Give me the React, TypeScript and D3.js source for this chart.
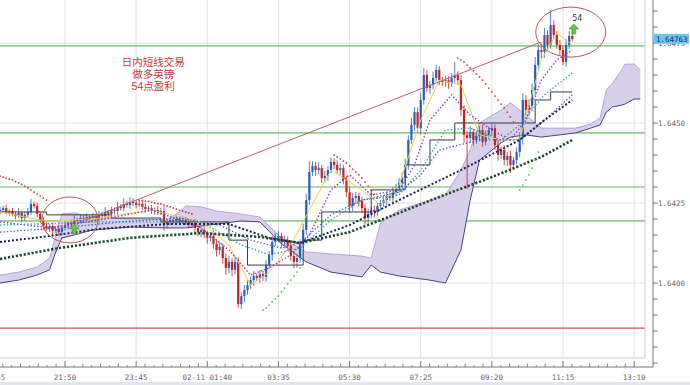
import * as d3 from "d3";

const WIDTH = 690;
const HEIGHT = 385;
const PLOT_RIGHT = 645;
const PLOT_BOTTOM = 358;
const AXIS_X = 653;
const AXIS_Y = 367;

// GBP/USD 5 minute bars, 20:05 -> 11:30
const FIRST_OPEN = 1.64222;
const closes = [
  1.64228, 1.64234, 1.64222, 1.64225, 1.64216, 1.64209, 1.64219, 1.64203, 1.64213, 1.64222,
  1.64247, 1.64241, 1.64216, 1.64197, 1.64178, 1.64172, 1.64178, 1.64163, 1.64169, 1.64159,
  1.64172, 1.64181, 1.64188, 1.64184, 1.64197, 1.64194, 1.64203, 1.64197, 1.64206, 1.642,
  1.64209, 1.64203, 1.64213, 1.64209, 1.64222, 1.64216, 1.64228, 1.64225, 1.64238, 1.64234,
  1.64247, 1.64244, 1.64253, 1.6425, 1.64244, 1.64247, 1.64238, 1.64231, 1.64234, 1.64225,
  1.64228, 1.64222, 1.64225, 1.64184, 1.64191, 1.64197, 1.64194, 1.642, 1.64194, 1.64197,
  1.64191, 1.64184, 1.64188, 1.64172, 1.64159, 1.64166, 1.64153, 1.64141, 1.64147, 1.64122,
  1.64103, 1.64113, 1.64078, 1.64047, 1.64066, 1.64041, 1.64066, 1.63934, 1.63959, 1.63978,
  1.63994, 1.64009, 1.64022, 1.64016, 1.64028, 1.64019, 1.64056, 1.64088, 1.64128, 1.64141,
  1.64147, 1.64128, 1.64134, 1.64116, 1.64084, 1.64066, 1.64078, 1.64122, 1.64166, 1.64259,
  1.64347, 1.64366, 1.64353, 1.64359, 1.64328, 1.64334, 1.64353, 1.64378, 1.64369, 1.64353,
  1.64359, 1.64322, 1.64284, 1.64241, 1.64266, 1.64272, 1.64256, 1.64234, 1.64203, 1.64216,
  1.64228, 1.64222, 1.64241, 1.6425, 1.64259, 1.64272, 1.64266, 1.64284, 1.64297, 1.64313,
  1.64328, 1.64369, 1.64447, 1.64494, 1.64534, 1.64484, 1.64572, 1.6465, 1.64609, 1.64619,
  1.64641, 1.64666, 1.64634, 1.64628, 1.64634, 1.64625, 1.64641, 1.6465, 1.64634, 1.64541,
  1.64463, 1.64453, 1.64472, 1.64447, 1.64459, 1.64478, 1.64441, 1.64463, 1.64478, 1.64484,
  1.64431, 1.644, 1.64416, 1.64384, 1.64397, 1.64369, 1.64384, 1.64409, 1.64453, 1.64572,
  1.64541, 1.64556, 1.64603, 1.64681, 1.64728, 1.64722, 1.64775, 1.64744, 1.64806, 1.64775,
  1.64744, 1.64728, 1.64691, 1.64744, 1.64772, 1.64763,
];
// wick lengths beyond the body, in pips
const upperWick = [
  1, 0.8, 1.2, 0.6, 1, 0.8, 1.5, 0.7, 1, 1.2,
  1.6, 0.8, 1, 0.6, 0.9, 1.2, 0.7, 1, 0.8, 1.1,
  0.9, 1.3, 0.8, 1, 1.4, 0.7, 1, 0.8, 1.2, 0.6,
  1, 0.8, 1.2, 0.9, 1.5, 0.7, 1, 0.8, 1.6, 0.9,
  1.8, 1, 1.5, 1.2, 0.8, 1, 0.9, 1.1, 0.7, 1,
  0.8, 1.2, 1, 1.5, 0.9, 1.2, 0.8, 1, 0.7, 1.1,
  0.9, 1, 0.8, 1.3, 1, 1.2, 1.5, 1, 1.3, 1.8,
  1.2, 1.6, 1, 1.5, 2, 1.2, 1.8, 1.5, 1.2, 1.6,
  1.4, 1, 1.5, 0.8, 1.2, 1, 1.5, 1.2, 1.8, 1.5,
  1.6, 1, 1.4, 1.2, 1, 1.6, 1.2, 1.5, 1.8, 2,
  3.4, 1.5, 1.2, 1.8, 1, 1.6, 1.2, 1.5, 1.2, 1.4,
  1.5, 1, 1.2, 1.8, 1.5, 1.2, 1, 1.4, 1.2, 1.6,
  1, 1.4, 1.2, 1, 1.5, 1.2, 1, 1.6, 1.2, 1.5,
  1.8, 2, 1.5, 2.2, 1.6, 1.5, 2, 2.2, 1.5, 1.2,
  1.8, 1.5, 1.2, 1, 1.4, 1.2, 1.5, 4, 1.2, 1.5,
  1.5, 1.2, 1.8, 1, 1.5, 1.2, 1.6, 1.4, 1.2, 1.8,
  1.2, 1.5, 1, 1.4, 1.2, 1.6, 1, 1.5, 1.8, 2,
  1.5, 1.8, 2, 2.5, 1.8, 2, 2.2, 1.5, 4.7, 1.5,
  1.2, 1.5, 1.2, 1.8, 1.5, 1,
];
const lowerWick = [
  0.8, 1, 0.7, 1.2, 0.8, 1, 0.6, 1.3, 0.9, 0.7,
  1, 0.8, 1.2, 1, 1.4, 0.9, 1.2, 1.6, 0.8, 1.2,
  1, 0.8, 1.2, 0.9, 1, 1.3, 0.8, 1, 0.7, 1.1,
  0.9, 1.2, 0.8, 1, 0.7, 1.3, 0.9, 1, 1.2, 0.8,
  1, 0.8, 1.2, 0.9, 1.1, 0.7, 1, 1.2, 0.8, 1,
  1.2, 0.9, 1, 2, 1.2, 1, 0.8, 1.2, 1, 0.9,
  1.1, 1.4, 1, 1.5, 1.2, 1.6, 1.3, 1.8, 1.2, 1.5,
  2, 1.5, 1.8, 2.2, 1.6, 2, 1.4, 1.2, 1.5, 1.8,
  1.5, 1.2, 1.8, 1, 1.6, 1.2, 1.5, 1.3, 1.8, 1.2,
  1.4, 1.8, 1.2, 1.6, 1.5, 2, 1.8, 1.5, 1.2, 1.6,
  1.5, 1.2, 1.8, 1.4, 1.6, 1.2, 1.5, 1, 1.4, 1.2,
  1.6, 1.4, 1.5, 2, 1.6, 1.5, 1.8, 1.6, 2, 1.5,
  1.4, 1.8, 1.2, 1.5, 1.2, 1.6, 1, 1.4, 1.2, 1.5,
  1.8, 2, 1.5, 1.2, 1.8, 1.5, 2, 1.5, 1.2, 1.8,
  1.4, 1.2, 1.6, 1.2, 1.5, 1.8, 1.2, 1.5, 1.4, 2,
  2.5, 16, 1.5, 1.8, 1.2, 1.6, 1.5, 1.2, 1.4, 1.8,
  1.5, 1.8, 1.2, 1.6, 1.8, 2.5, 1.5, 1.2, 1.6, 2,
  1.5, 1.8, 1.2, 1.6, 1.5, 2, 1.8, 1.4, 1.2, 1.5,
  1.2, 1.6, 1, 1.5, 1.2, 0.8,
];

const timeLabels = ["19:55", "21:50", "23:45", "02-11 01:40", "03:35", "05:30", "07:25", "09:20", "11:15", "13:10"];
const timeLabelBars = [-2, 21, 44, 67, 90, 113, 136, 159, 182, 205];
const supportLevels = [1.64741, 1.64469, 1.643, 1.64194];
const stopLevels = [1.63859];
const LAST_PRICE = 1.64763;

// ichimoku cloud edges
const cloudBars = [0, 6, 12, 16, 18, 20, 24, 30, 42, 54, 58, 60, 65, 70, 78, 84, 91, 99, 107, 117, 120, 123, 129, 139, 144, 149, 152, 155, 162, 165, 170, 175, 181, 186, 191, 194, 196, 198, 201, 202, 205, 207];
const senkouA = [1.64025, 1.64034, 1.6405, 1.64078, 1.6415, 1.64216, 1.64219, 1.64206, 1.642, 1.64197, 1.64222, 1.64241, 1.64238, 1.64225, 1.64216, 1.64206, 1.64141, 1.64097, 1.64091, 1.64084, 1.64078, 1.64188, 1.64228, 1.64259, 1.64275, 1.64353, 1.64416, 1.645, 1.64541, 1.64563, 1.64525, 1.64484, 1.64484, 1.64484, 1.64497, 1.64516, 1.64603, 1.64625, 1.64666, 1.64684, 1.64684, 1.64666];
const senkouB = [1.64, 1.64009, 1.64025, 1.64041, 1.64097, 1.64141, 1.6415, 1.64166, 1.64175, 1.64172, 1.64172, 1.64172, 1.64178, 1.64184, 1.64194, 1.64191, 1.64122, 1.64066, 1.64034, 1.64019, 1.64056, 1.64034, 1.64022, 1.64009, 1.64, 1.64103, 1.64259, 1.64384, 1.64438, 1.64456, 1.64463, 1.64456, 1.64463, 1.64469, 1.64484, 1.64494, 1.64534, 1.6455, 1.64556, 1.64559, 1.64575, 1.64575];

const kijun: [number, number][] = [
  [0, 1.64222], [15, 1.64213], [36, 1.64203], [52, 1.64191], [74, 1.64134], [80, 1.64056], [98, 1.64134],
  [104, 1.64222], [120, 1.64291], [131, 1.64369], [139, 1.64447], [147, 1.645], [173, 1.64572], [178, 1.64597], [185, 1.64597],
];
const maSlow: [number, number][] = [
  [0, 1.64075], [19, 1.64109], [42, 1.64141], [65, 1.64156], [84, 1.64144], [97, 1.64125], [113, 1.64159],
  [129, 1.64219], [142, 1.64269], [159, 1.64331], [175, 1.64394], [185, 1.64447],
];
const maNavy: [number, number][] = [
  [0, 1.64128], [16, 1.64147], [32, 1.64169], [54, 1.64184], [74, 1.64184], [87, 1.64141], [97, 1.64125],
  [113, 1.64181], [129, 1.64259], [149, 1.64353], [168, 1.64447], [176, 1.64509], [185, 1.64572],
];
const maBlue: [number, number][] = [
  [0, 1.64159], [19, 1.64172], [39, 1.64191], [58, 1.64203], [71, 1.64181], [81, 1.64134], [91, 1.64109],
  [97, 1.64125], [107, 1.64213], [117, 1.64259], [129, 1.64284], [136, 1.64338], [142, 1.64416], [155, 1.64447],
  [168, 1.64447], [176, 1.64509], [185, 1.64588],
];
const maTeal: [number, number][] = [
  [0, 1.64181], [32, 1.64191], [65, 1.64191], [78, 1.64119], [87, 1.64088], [97, 1.64109], [107, 1.64197],
  [117, 1.64259], [129, 1.64275], [136, 1.64353], [144, 1.64478], [152, 1.64484], [162, 1.64447], [168, 1.64494],
  [176, 1.64588], [185, 1.64656],
];
const maMagenta: [number, number][] = [
  [0, 1.64191], [16, 1.64172], [32, 1.64197], [49, 1.64228], [65, 1.64172], [74, 1.64103], [81, 1.64025],
  [87, 1.64047], [94, 1.64088], [100, 1.6415], [107, 1.64291], [113, 1.64338], [120, 1.64275], [129, 1.64291],
  [134, 1.64369], [139, 1.64509], [146, 1.64588], [152, 1.64525], [159, 1.64478], [165, 1.64447], [170, 1.64509],
  [175, 1.64634], [180, 1.64697], [185, 1.64728],
];
const maFast: [number, number][] = [
  [0, 1.64222], [16, 1.64191], [32, 1.64203], [49, 1.64228], [65, 1.64191], [74, 1.64119], [81, 1.63994],
  [87, 1.64034], [94, 1.64119], [100, 1.64228], [107, 1.64353], [117, 1.64291], [123, 1.64244], [129, 1.64306],
  [136, 1.64509], [142, 1.64634], [149, 1.64619], [155, 1.64463], [162, 1.64447], [168, 1.64447], [175, 1.64697],
  [180, 1.64781], [185, 1.64744],
];

// parabolic SAR dots, [bar, price]
const sarAbove: [number, number][] = [
  [0, 1.64334], [1, 1.64331], [2, 1.64328], [3, 1.64325], [4, 1.64322], [5, 1.64317], [6, 1.64313], [7, 1.64308],
  [8, 1.64303], [9, 1.64297], [10, 1.64291], [11, 1.64284], [12, 1.64278], [13, 1.64272], [14, 1.64266], [15, 1.64259],
  [45, 1.64259], [46, 1.64258], [47, 1.64256], [48, 1.64255], [49, 1.64253], [50, 1.6425], [51, 1.64248], [52, 1.64247],
  [53, 1.64244], [54, 1.64241], [55, 1.64238], [56, 1.64234], [57, 1.64231], [58, 1.64228], [59, 1.64225], [60, 1.64222],
  [61, 1.64219], [62, 1.64216],
  [108, 1.644], [109, 1.64394], [110, 1.64388], [111, 1.64381], [112, 1.64375], [113, 1.64366], [114, 1.64356],
  [115, 1.64347], [116, 1.64338], [117, 1.64328], [118, 1.64316], [119, 1.64303], [120, 1.64291], [121, 1.64278], [122, 1.64266],
  [148, 1.64703], [149, 1.64697], [150, 1.64691], [151, 1.64681], [152, 1.64672], [153, 1.64663], [154, 1.64653],
  [155, 1.64644], [156, 1.64634], [157, 1.64622], [158, 1.64609], [159, 1.64597], [160, 1.64584], [161, 1.64572],
  [162, 1.64559], [163, 1.64547], [164, 1.64534], [165, 1.64519], [166, 1.64503],
];
const sarBelow: [number, number][] = [
  [85, 1.63916], [86, 1.63922], [87, 1.63931], [88, 1.63941], [89, 1.6395], [90, 1.63959], [91, 1.63972],
  [92, 1.63984], [93, 1.63997], [94, 1.64009], [95, 1.64022], [96, 1.64034], [97, 1.64047],
  [168, 1.64291], [169, 1.64306], [170, 1.64322], [171, 1.64338], [172, 1.64359], [173, 1.64384], [174, 1.64409],
];

const trendLine: [number, number][] = [[25.2, 1.64188], [174.9, 1.64753]];
const noteLines = ["日内短线交易", "做多英镑", "54点盈利"];

export default function App() {
  const x = d3.scaleLinear().domain([21, 182]).range([65, 563]);
  const y = d3.scaleLinear().domain([1.64, 1.645]).range([283, 123]);

  const line = d3.line<[number, number]>().x((d) => x(d[0])).y((d) => y(d[1]));
  const stepLine = d3
    .line<[number, number]>()
    .x((d) => x(d[0]))
    .y((d) => y(d[1]))
    .curve(d3.curveStepAfter);
  const cloudArea = d3
    .area<number>()
    .x((b) => x(b))
    .y0((_, k) => y(senkouA[k]))
    .y1((_, k) => y(senkouB[k]));
  const edge = (vals: number[]) =>
    d3.line<number>().x((b) => x(b)).y((_, k) => y(vals[k]))(cloudBars) ?? "";

  const bars = closes.map((c, i) => {
    const o = i === 0 ? FIRST_OPEN : closes[i - 1];
    return {
      i,
      o,
      c,
      hi: Math.max(o, c) + upperWick[i] / 10000,
      lo: Math.min(o, c) - lowerWick[i] / 10000,
    };
  });

  const priceTicks = d3.range(-12, 19).map((k) => 1.64 + k * 0.0005);
  const gridPrices = [1.64, 1.6425, 1.645, 1.6475];
  const fmt = d3.format(".4f");

  const minorBars: number[] = [];
  for (let k = 0; k < timeLabelBars.length - 1; k++) {
    for (let j = 1; j < 8; j++) {
      minorBars.push(timeLabelBars[k] + ((timeLabelBars[k + 1] - timeLabelBars[k]) * j) / 8);
    }
  }

  const arrow = "M0,-5 L5,0 L2,0 L2,5 L-2,5 L-2,0 L-5,0 Z";
  const axisFont = "'DejaVu Sans Mono', monospace";

  return (
    <svg
      width={WIDTH}
      height={HEIGHT}
      style={{ position: "absolute", left: 0, top: 0, background: "#fff" }}
    >
      <defs>
        <clipPath id="plot-clip">
          <rect x={0} y={0} width={PLOT_RIGHT} height={PLOT_BOTTOM} />
        </clipPath>
      </defs>

      <g clipPath="url(#plot-clip)">
        {timeLabelBars.map((b) => (
          <line key={`vg${b}`} x1={x(b)} x2={x(b)} y1={0} y2={PLOT_BOTTOM} stroke="#e2e2e2" />
        ))}
        {gridPrices.map((p) => (
          <line key={`hg${p}`} x1={0} x2={PLOT_RIGHT} y1={y(p)} y2={y(p)} stroke="#e2e2e2" />
        ))}
        {supportLevels.map((p) => (
          <line key={`s${p}`} x1={0} x2={PLOT_RIGHT} y1={y(p)} y2={y(p)} stroke="#92cf8e" strokeWidth={1.6} />
        ))}
        {stopLevels.map((p) => (
          <line key={`r${p}`} x1={0} x2={PLOT_RIGHT} y1={y(p)} y2={y(p)} stroke="#c65050" strokeWidth={1.2} />
        ))}

        <path d={cloudArea(cloudBars) ?? ""} fill="#d8cfea" />
        <path d={edge(senkouA)} fill="none" stroke="#a898cc" strokeWidth={0.8} />
        <path d={edge(senkouB)} fill="none" stroke="#4e3f82" strokeWidth={1} />

        {bars.map((d) => {
          const color = d.c >= d.o ? "#2860b8" : "#cc2020";
          const top = y(Math.max(d.o, d.c));
          const bot = y(Math.min(d.o, d.c));
          return (
            <g key={d.i}>
              <line x1={x(d.i)} x2={x(d.i)} y1={y(d.hi)} y2={y(d.lo)} stroke={color} strokeWidth={0.8} />
              <rect x={x(d.i) - 1.1} y={top} width={2.2} height={Math.max(bot - top, 0.8)} fill={color} />
            </g>
          );
        })}

        <path d={stepLine(kijun) ?? ""} fill="none" stroke="#3c3c3c" strokeWidth={1} />
        <path d={line(maFast) ?? ""} fill="none" stroke="#e8d448" strokeWidth={1} />
        <path d={line(maMagenta) ?? ""} fill="none" stroke="#9a32c6" strokeWidth={1.4} strokeDasharray="1.4,2" />
        <path d={line(maTeal) ?? ""} fill="none" stroke="#2ea3a0" strokeWidth={1.3} strokeDasharray="1.4,2" />
        <path d={line(maBlue) ?? ""} fill="none" stroke="#3a5fd0" strokeWidth={1.3} strokeDasharray="1.4,2" />
        <path d={line(maNavy) ?? ""} fill="none" stroke="#1c2458" strokeWidth={2} strokeDasharray="2,2" />
        <path d={line(maSlow) ?? ""} fill="none" stroke="#1f4a2c" strokeWidth={2.6} strokeDasharray="2.2,1.8" />

        {sarAbove.map((d, k) => (
          <circle key={`sa${k}`} cx={x(d[0])} cy={y(d[1])} r={0.9} fill="#c43a3a" />
        ))}
        {sarBelow.map((d, k) => (
          <circle key={`sb${k}`} cx={x(d[0])} cy={y(d[1])} r={0.9} fill="#52b84a" />
        ))}

        <path d={line(trendLine) ?? ""} fill="none" stroke="#b46464" strokeWidth={1} />
        <ellipse cx={x(22.6)} cy={y(1.64197)} rx={28} ry={23} fill="none" stroke="#b85a5a" strokeWidth={1} />
        <ellipse cx={x(184.5)} cy={y(1.64784)} rx={35} ry={25} fill="none" stroke="#b85a5a" strokeWidth={1} />

        <path d={arrow} transform={`translate(${x(24)},${y(1.64169)})`} fill="#6cc04a" stroke="#3c8c28" strokeWidth={0.5} />
        <path d={arrow} transform={`translate(${x(185.5)},${y(1.64794)})`} fill="#6cc04a" stroke="#3c8c28" strokeWidth={0.5} />
        <text x={x(185)} y={y(1.64819)} fontSize={8} fill="#333" fontFamily="'DejaVu Sans', sans-serif">
          54
        </text>

        {noteLines.map((t, k) => (
          <text
            key={t}
            x={x(49.5)}
            y={y(1.64678) + k * 12}
            textAnchor="middle"
            fontSize={10.5}
            fill="#c63c3c"
            fontFamily="'Liberation Sans', 'Noto Sans CJK SC', sans-serif"
          >
            {t}
          </text>
        ))}
      </g>

      {/* plot frame */}
      <line x1={PLOT_RIGHT} x2={PLOT_RIGHT} y1={0} y2={PLOT_BOTTOM} stroke="#d0d0d0" />
      <line x1={0} x2={PLOT_RIGHT} y1={PLOT_BOTTOM} y2={PLOT_BOTTOM} stroke="#d0d0d0" />

      {/* price axis */}
      <line x1={AXIS_X} x2={AXIS_X} y1={0} y2={AXIS_Y} stroke="#777" />
      {priceTicks
        .filter((p) => y(p) > 0 && y(p) < AXIS_Y)
        .map((p) => {
          const major = Math.abs(Math.round(p * 4000) - p * 4000) < 1e-6;
          return (
            <line key={`pt${p}`} x1={AXIS_X} x2={AXIS_X + (major ? 5 : 3)} y1={y(p)} y2={y(p)} stroke="#777" />
          );
        })}
      {gridPrices.map((p) => (
        <text key={`pl${p}`} x={AXIS_X + 5} y={y(p) + 3} fontSize={7.5} fill="#666" fontFamily={axisFont}>
          {fmt(p)}
        </text>
      ))}
      <rect x={AXIS_X + 1} y={y(LAST_PRICE) - 5} width={WIDTH - AXIS_X - 2} height={10} fill="#6ec4ee" />
      <text x={AXIS_X + 3} y={y(LAST_PRICE) + 3} fontSize={7.5} fill="#10305a" fontFamily={axisFont}>
        {LAST_PRICE.toFixed(5)}
      </text>

      {/* time axis */}
      <line x1={0} x2={AXIS_X} y1={AXIS_Y} y2={AXIS_Y} stroke="#777" />
      {timeLabelBars.map((b) => (
        <line key={`tt${b}`} x1={x(b)} x2={x(b)} y1={AXIS_Y} y2={AXIS_Y - 6} stroke="#777" />
      ))}
      {minorBars.map((b, k) => (
        <line key={`mt${k}`} x1={x(b)} x2={x(b)} y1={AXIS_Y} y2={AXIS_Y - (k % 2 ? 2 : 3.5)} stroke="#888" />
      ))}
      {timeLabels.map((t, k) => (
        <text key={t} x={x(timeLabelBars[k])} y={380} textAnchor="middle" fontSize={7.5} fill="#666" fontFamily={axisFont}>
          {t}
        </text>
      ))}
      <rect x={0} y={382} width={WIDTH} height={3} fill="#e2e7ee" />
    </svg>
  );
}
